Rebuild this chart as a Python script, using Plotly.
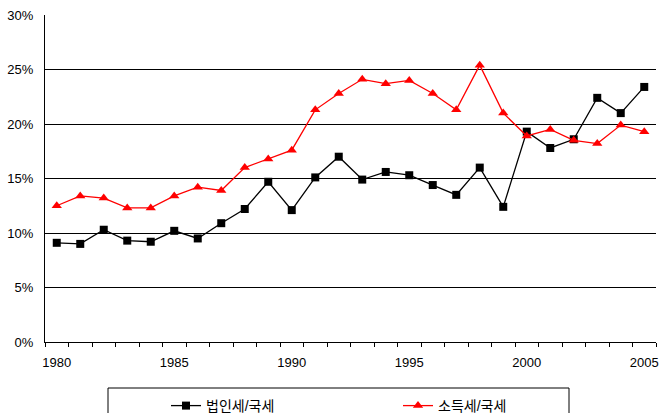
import plotly.graph_objects as go

years = list(range(1980, 2006))
corp_tax = [9.1, 9.0, 10.3, 9.3, 9.2, 10.2, 9.5, 10.9, 12.2, 14.7, 12.1, 15.1, 17.0,
            14.9, 15.6, 15.3, 14.4, 13.5, 16.0, 12.4, 19.3, 17.8, 18.6, 22.4, 21.0, 23.4]
income_tax = [12.5, 13.4, 13.2, 12.3, 12.3, 13.4, 14.2, 13.9, 16.0, 16.8, 17.6, 21.3, 22.8,
              24.1, 23.7, 24.0, 22.8, 21.3, 25.4, 21.0, 18.9, 19.5, 18.5, 18.2, 19.9, 19.3]
series_names = ["법인세/국세", "소득세/국세"]
x_labels = [1980, 1985, 1990, 1995, 2000, 2005]
y_ticks = [0, 5, 10, 15, 20, 25, 30]

FONT = "Arial, 'Liberation Sans', 'Noto Sans CJK KR', sans-serif"

fig = go.Figure()
fig.add_trace(go.Scatter(
    x=years, y=corp_tax, name=series_names[0], mode="lines+markers",
    line=dict(color="#000000", width=1.3),
    marker=dict(symbol="square", size=8, color="#000000"),
    legend="legend",
))
fig.add_trace(go.Scatter(
    x=years, y=income_tax, name=series_names[1], mode="lines+markers",
    line=dict(color="#FF0000", width=1.3),
    marker=dict(symbol="triangle-up", size=9, color="#FF0000"),
    legend="legend2",
))

W, H = 611, 327  # plot area in px
def px_x(p):
    return (p - 45) / W
def px_y(p):
    return (342 - p) / H

leg_common = dict(orientation="h", xanchor="left", yanchor="top",
                  font=dict(size=14, family=FONT), bgcolor="rgba(0,0,0,0)", borderwidth=0)

fig.update_layout(
    width=660, height=413,
    margin=dict(l=45, r=4, t=15, b=71, autoexpand=False),
    paper_bgcolor="white", plot_bgcolor="white",
    font=dict(family=FONT, size=13, color="#000000"),
    showlegend=True,
    legend=dict(x=px_x(166), y=px_y(390), **leg_common),
    legend2=dict(x=px_x(398), y=px_y(390), **leg_common),
    shapes=[dict(
        type="rect", xref="paper", yref="paper",
        x0=px_x(108), x1=px_x(569), y0=px_y(440), y1=px_y(388),
        line=dict(color="#000000", width=1), fillcolor="rgba(0,0,0,0)",
    )],
)

fig.update_xaxes(
    range=[1979.5, 2005.5], tickmode="array", tickvals=x_labels,
    ticktext=[str(v) for v in x_labels], ticks="", showgrid=False,
    showline=True, linecolor="#000000", linewidth=1, zeroline=False,
    ticklabelstandoff=8, automargin=False,
    minor=dict(tickmode="linear", tick0=1979.5, dtick=1, ticks="outside",
               ticklen=4, tickcolor="#000000", showgrid=False),
)
fig.update_yaxes(
    range=[0, 30], tickmode="array", tickvals=y_ticks,
    ticktext=[f"{v}%" for v in y_ticks], ticks="",
    showgrid=True, gridcolor="#000000", gridwidth=1,
    showline=True, linecolor="#000000", linewidth=1, zeroline=False,
    ticklabelstandoff=8, automargin=False,
)

fig.write_html(
    "out.html",
    config={"displayModeBar": False},
    post_script="document.body.style.margin='0';document.body.style.overflow='hidden';",
)
